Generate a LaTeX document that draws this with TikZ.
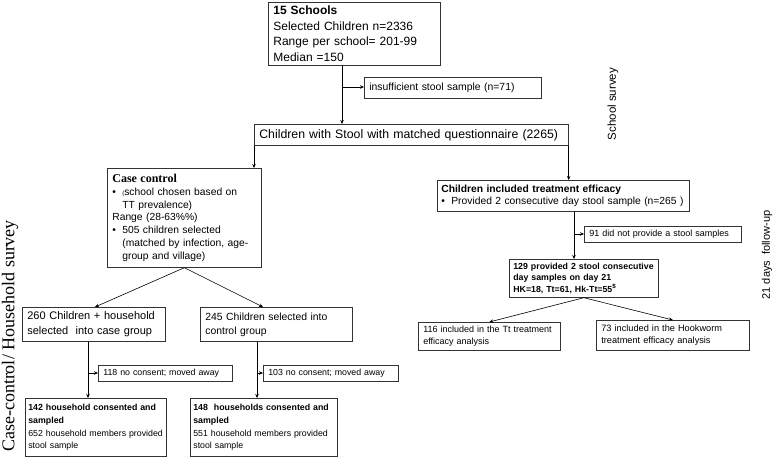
\documentclass[tikz,border=0pt]{standalone}
\usepackage{fontspec}
\setmainfont{Liberation Sans}
\newfontfamily\timesf{Liberation Serif}
\usetikzlibrary{arrows.meta}
\newcommand\oneline[1]{\mbox{#1}}
\begin{document}
\begin{tikzpicture}[x=1pt,y=-1pt,
  box/.style={draw=black!80, line width=0.7pt, anchor=north west, inner xsep=5pt, inner ysep=0pt, align=left},
  arr/.style={line width=0.6pt, -{Stealth[length=4pt,width=3.5pt]}},
  lbl/.style={rotate=90, inner sep=0pt}]
\useasboundingbox (0,0) rectangle (777,457);
% top part
\node[box, font=\fontsize{12}{15.5}\selectfont, text width=162pt, minimum height=63pt] (top) at (268,2)
  {\textbf{15 Schools}\\Selected Children n=2336\\Range per school= 201-99\\Median =150};
\node[box, font=\fontsize{10.4}{12}\selectfont, text width=167pt, minimum height=21pt] (insuf) at (364,77)
  {insufficient stool sample (n=71)};
\node[box, font=\fontsize{12.3}{14}\selectfont, text width=304pt, minimum height=21pt] (big) at (254,124)
  {\oneline{Children with Stool with matched questionnaire (2265)}};
% case control branch
\node[box, font=\fontsize{10.3}{12.8}\selectfont, text width=144pt, minimum height=99pt, inner xsep=5pt] (cc) at (107,168)
  {{\timesf\bfseries\fontsize{12}{12.8}\selectfont Case control}\\
   \makebox[10pt][l]{\textbullet}{\fontsize{6}{7}\selectfont(}school chosen based on\\
   \hspace*{10pt}TT prevalence)\\
   Range (28-63\%\%)\\
   \makebox[10pt][l]{\textbullet}505 children selected\\
   \hspace*{10pt}\oneline{(matched by infection, age-}\\
   \hspace*{10pt}group and village)};
\node[box, font=\fontsize{11}{15.5}\selectfont, text width=133pt, minimum height=34pt] (c260) at (22,307)
  {\oneline{260 Children + household}\\selected\ \ into case group};
\node[box, font=\fontsize{10.4}{14}\selectfont, text width=142pt, minimum height=34pt] (c245) at (200,307)
  {245 Children selected into\\control group};
\node[box, font=\fontsize{8.8}{10}\selectfont, text width=124pt, minimum height=16pt] (n118) at (98,365)
  {\oneline{118 no consent; moved away}};
\node[box, font=\fontsize{8.8}{10}\selectfont, text width=125pt, minimum height=16pt] (n103) at (263,365)
  {\oneline{103 no consent; moved away}};
\node[box, font=\fontsize{8.8}{12.8}\selectfont, text width=135pt, minimum height=58pt, inner xsep=3pt] (h142) at (25,398)
  {\oneline{\textbf{142 household consented and}}\\\textbf{sampled}\\\oneline{652 household members provided}\\stool sample};
\node[box, font=\fontsize{8.8}{12.8}\selectfont, text width=141pt, minimum height=58pt, inner xsep=3pt] (h148) at (190,398)
  {\oneline{\textbf{148\ \ households consented and}}\\\textbf{sampled}\\\oneline{551 household members provided}\\stool sample};
% treatment branch
\node[box, font=\fontsize{10.3}{12.5}\selectfont, text width=244pt, minimum height=31pt, inner xsep=4pt] (tr) at (437,180)
  {\textbf{Children included treatment efficacy}\\
   \oneline{\makebox[10pt][l]{\textbullet}Provided 2 consecutive day stool sample (n=265 )}};
\node[box, font=\fontsize{9}{10}\selectfont, text width=147pt, minimum height=16pt] (n91) at (584,226)
  {\oneline{91 did not provide a stool samples}};
\node[box, font=\fontsize{8.8}{11.5}\selectfont\bfseries, text width=141pt, minimum height=38pt, inner xsep=4pt] (p129) at (509,259)
  {\oneline{129 provided 2 stool consecutive}\\day samples on day 21\\HK=18, Tt=61, Hk-Tt=55\textsuperscript{\$}};
\node[box, font=\fontsize{9}{12}\selectfont, text width=132pt, minimum height=28pt] (a116) at (418,322)
  {\oneline{116 included in the Tt treatment}\\efficacy analysis};
\node[box, font=\fontsize{9.2}{12}\selectfont, text width=143pt, minimum height=30pt] (a73) at (596,320)
  {73 included in the Hookworm\\treatment efficacy analysis};
% side labels
\node[lbl, font=\fontsize{11.5}{13}\selectfont] (ss) at (613,104) {School survey};
\node[lbl, font=\fontsize{11}{13}\selectfont] (fu) at (767,255) {21 days\ \ follow-up};
\node[lbl, font=\timesf\fontsize{18}{19}\selectfont] (cl) at (10,336) {Case-control/ Household survey};
% junctions
\coordinate (j1) at (342,87);
\coordinate (v1) at (88,373);
\coordinate (v2) at (257,373);
\coordinate (v3) at (574,234);
\coordinate (t245) at (263,0);
\coordinate (t260) at (95,0);
% connectors
\draw[arr] (top.south -| j1) -- (big.north -| j1);
\draw[arr] (j1) -- (insuf.west |- j1);
\draw[arr] (big.south west) -- (big.south west |- cc.north);
\draw[arr] (big.south east) -- (big.south east |- tr.north);
\draw[arr] (cc.south) -- (t260 |- c260.north);
\draw[arr] (cc.south) -- (t245 |- c245.north);
\draw[arr] (c260.south -| v1) -- (h142.north -| v1);
\draw[arr] (v1) -- (n118.west |- v1);
\draw[arr] (c245.south -| v2) -- (h148.north -| v2);
\draw[arr] (v2) -- (n103.west |- v2);
\draw[arr] (tr.south -| v3) -- (p129.north -| v3);
\draw[arr] (v3) -- (n91.west |- v3);
\draw[arr] (p129.south) -- (a116.north);
\draw[arr] (p129.south) -- (a73.north);
\end{tikzpicture}
\end{document}
